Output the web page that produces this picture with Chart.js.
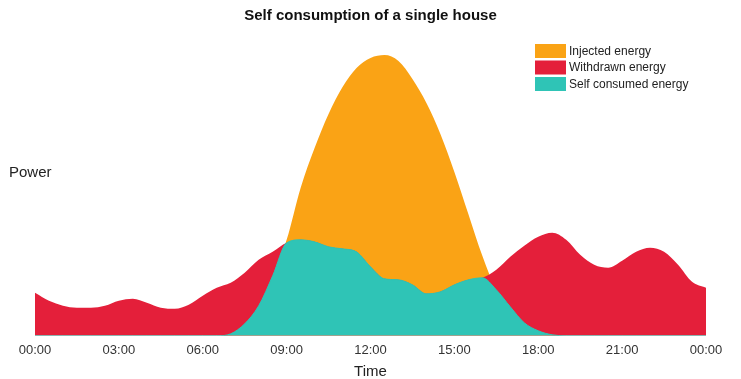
<!DOCTYPE html>
<html>
<head>
<meta charset="utf-8">
<script src="https://cdn.jsdelivr.net/npm/chart.js@4/dist/chart.umd.min.js"></script>
<style>
  html, body { margin: 0; padding: 0; background: #fff; }
  #wrap { width: 741px; height: 379px; }
</style>
</head>
<body>
<div id="wrap"><canvas id="houseChart"></canvas></div>
<script>
// half-hour steps over the day
const hours = [0, 0.5, 1, 1.5, 2, 2.5, 3, 3.5, 4, 4.5, 5, 5.5, 6, 6.5, 7, 7.5, 8, 8.5,
  9, 9.5, 10, 10.5, 11, 11.5, 12, 12.5, 13, 13.5, 14, 14.5, 15, 15.5, 16, 16.5,
  17, 17.5, 18, 18.5, 19, 19.5, 20, 20.5, 21, 21.5, 22, 22.5, 23, 23.5, 24];

// house consumption (top of red / teal)
const consumption = [43, 35, 30, 28, 28, 30, 35, 37, 33, 28, 27, 31, 40, 48, 53, 63, 76, 84,
  93, 96, 94, 89, 87, 84, 69, 57, 56, 51, 42, 44, 51, 56, 58, 66,
  79, 90, 99, 103, 96, 81, 71, 68, 75, 84, 88, 84, 71, 54, 48];

// pv production (top of orange)
const production = [0, 0, 0, 0, 0, 0, 0, 0, 0, 0, 0, 0, 0, 0, 2, 12, 30, 60,
  96, 148, 188, 222, 249, 268, 278, 281, 275, 257, 233, 202, 164, 122, 80, 46,
  29, 13, 5, 1, 0, 0, 0, 0, 0, 0, 0, 0, 0, 0, 0];

// self consumed part
const selfConsumed = [0, 0, 0, 0, 0, 0, 0, 0, 0, 0, 0, 0, 0, 0, 2, 12, 30, 60,
  93, 96, 94, 89, 87, 84, 69, 57, 56, 51, 42, 44, 51, 56, 58, 46,
  29, 13, 5, 1, 0, 0, 0, 0, 0, 0, 0, 0, 0, 0, 0];

const xTicks = ['00:00', '03:00', '06:00', '09:00', '12:00', '15:00', '18:00', '21:00', '00:00'];
const seriesNames = ['Injected energy', 'Withdrawn energy', 'Self consumed energy'];
const colors = ['#FAA315', '#E41F3A', '#2FC4B6'];

const pts = (arr) => hours.map((h, i) => ({ x: h, y: arr[i] }));

// extra text: y label and legend boxes
const extras = {
  id: 'extras',
  afterDraw(chart) {
    const ctx = chart.ctx;
    ctx.save();
    ctx.fillStyle = '#222';
    ctx.font = '15px "Liberation Sans", Arial, sans-serif';
    ctx.textBaseline = 'middle';
    ctx.textAlign = 'left';
    ctx.fillText('Power', 9, 173);

    ctx.font = '12px "Liberation Sans", Arial, sans-serif';
    seriesNames.forEach((name, i) => {
      const y = 44 + i * 16.5;
      ctx.fillStyle = colors[i];
      ctx.fillRect(535, y, 31, 14);
      ctx.fillStyle = '#222';
      ctx.fillText(name, 569, y + 7.5);
    });
    ctx.restore();
  }
};

const ctx = document.getElementById('houseChart').getContext('2d');
const houseChart = new Chart(ctx, {
  type: 'line',
  data: {
    datasets: [
      { label: seriesNames[0], data: pts(production), backgroundColor: colors[0], borderWidth: 0, fill: 'origin', order: 2 },
      { label: seriesNames[1], data: pts(consumption), backgroundColor: colors[1], borderWidth: 0, fill: 'origin', order: 1 },
      { label: seriesNames[2], data: pts(selfConsumed), backgroundColor: colors[2], borderColor: colors[2], borderWidth: 1, fill: 'origin', order: 0 }
    ]
  },
  options: {
    responsive: true,
    maintainAspectRatio: false,
    animation: false,
    layout: { padding: { left: 35, right: 35, top: 0, bottom: 0 } },
    elements: {
      point: { radius: 0 },
      line: { cubicInterpolationMode: 'monotone' }
    },
    plugins: {
      legend: { display: false },
      tooltip: { enabled: false },
      title: {
        display: true,
        text: 'Self consumption of a single house',
        color: '#111',
        font: { family: '"Liberation Sans", Arial, sans-serif', size: 15, weight: 'bold' },
        padding: { top: 7, bottom: 10 }
      }
    },
    scales: {
      x: {
        type: 'linear',
        min: 0,
        max: 24,
        grid: { display: false, drawTicks: false },
        border: { display: false },
        ticks: {
          stepSize: 3,
          padding: 9,
          color: '#333',
          font: { family: '"Liberation Sans", Arial, sans-serif', size: 13, lineHeight: 0.9 },
          callback: (v) => xTicks[v / 3]
        },
        title: {
          display: true,
          text: 'Time',
          color: '#222',
          font: { family: '"Liberation Sans", Arial, sans-serif', size: 15, lineHeight: 0.9 },
          padding: { top: 0, bottom: 0 }
        }
      },
      y: {
        display: false,
        min: 0,
        max: 301
      }
    }
  },
  plugins: [extras]
});
</script>
</body>
</html>
